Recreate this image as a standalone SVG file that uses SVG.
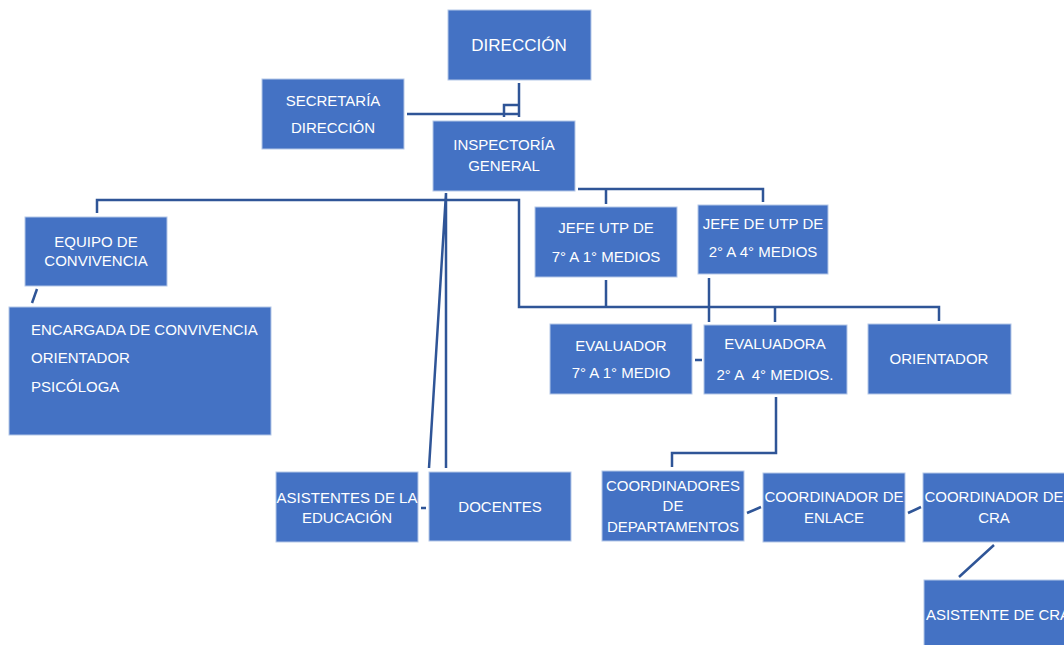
<svg xmlns="http://www.w3.org/2000/svg" width="1064" height="645" viewBox="0 0 1064 645">
<style>
.box{fill:#4472C4;stroke:#b4c7e7;stroke-width:1}
.t{font-family:"Liberation Sans",Arial,sans-serif;font-size:15px;fill:#ffffff;text-anchor:middle}
.tl{text-anchor:start}
.c{fill:none;stroke:#2F5597;stroke-width:2.5}
</style>
<rect width="1064" height="645" fill="#ffffff"/>
<g id="connectors">
<path class="c" d="M519,83 V117 M504,117 V105 H519 M407,114 H519"/>
<path class="c" d="M97,213 V200 H519 V307 H939 V321"/>
<path class="c" d="M446,193 V468 M446,193 L429,468"/>
<path class="c" d="M578,189 H763 V202 M606,189 V204"/>
<path class="c" d="M606,280 V307 M709,278 V322 M775,307 V322"/>
<path class="c" d="M695,360 H702 M421,508 H426"/>
<path class="c" d="M32,303 L37,289"/>
<path class="c" d="M776,397 V453 H672 V467"/>
<path class="c" d="M747,513 L761,507 M908,513 L921,507 M994,545 L959,577"/>
</g>
<g id="direccion"><rect class="box" x="448" y="10" width="143" height="70"/><text class="t" x="519" y="51" style="font-size:17px">DIRECCIÓN</text></g>
<g id="secretaria"><rect class="box" x="262" y="79" width="142" height="70"/><text class="t" x="333" y="106">SECRETARÍA</text><text class="t" x="333" y="133">DIRECCIÓN</text></g>
<g id="inspectoria"><rect class="box" x="433" y="121" width="142" height="70"/><text class="t" x="504" y="150">INSPECTORÍA</text><text class="t" x="504" y="171">GENERAL</text></g>
<g id="equipo"><rect class="box" x="25" y="217" width="142" height="69"/><text class="t" x="96" y="247">EQUIPO DE</text><text class="t" x="96" y="266">CONVIVENCIA</text></g>
<g id="encargada"><rect class="box" x="9" y="307" width="262" height="128"/><text class="t tl" x="31" y="335">ENCARGADA DE CONVIVENCIA</text><text class="t tl" x="31" y="363">ORIENTADOR</text><text class="t tl" x="31" y="392">PSICÓLOGA</text></g>
<g id="jefe1"><rect class="box" x="535" y="207" width="142" height="70"/><text class="t" x="606" y="233">JEFE UTP DE</text><text class="t" x="606" y="262">7° A 1° MEDIOS</text></g>
<g id="jefe2"><rect class="box" x="698" y="205" width="130" height="69"/><text class="t" x="763" y="229">JEFE DE UTP DE</text><text class="t" x="763" y="257">2° A 4° MEDIOS</text></g>
<g id="evaluador"><rect class="box" x="550" y="324" width="142" height="70"/><text class="t" x="621" y="351">EVALUADOR</text><text class="t" x="621" y="378">7° A 1° MEDIO</text></g>
<g id="evaluadora"><rect class="box" x="704" y="325" width="143" height="69"/><text class="t" x="775" y="349">EVALUADORA</text><text class="t" x="775" y="380" xml:space="preserve">2° A  4° MEDIOS.</text></g>
<g id="orientador"><rect class="box" x="868" y="324" width="143" height="70"/><text class="t" x="939" y="364">ORIENTADOR</text></g>
<g id="asistentes"><rect class="box" x="276" y="472" width="142" height="70"/><text class="t" x="347" y="503">ASISTENTES DE LA</text><text class="t" x="347" y="523">EDUCACIÓN</text></g>
<g id="docentes"><rect class="box" x="429" y="472" width="142" height="69"/><text class="t" x="500" y="512">DOCENTES</text></g>
<g id="coordinadores"><rect class="box" x="602" y="471" width="142" height="70"/><text class="t" x="673" y="491">COORDINADORES</text><text class="t" x="673" y="511">DE</text><text class="t" x="673" y="532">DEPARTAMENTOS</text></g>
<g id="enlace"><rect class="box" x="763" y="473" width="142" height="69"/><text class="t" x="834" y="502">COORDINADOR DE</text><text class="t" x="834" y="523">ENLACE</text></g>
<g id="cra"><rect class="box" x="923" y="473" width="142" height="69"/><text class="t" x="994" y="502">COORDINADOR DE</text><text class="t" x="994" y="523">CRA</text></g>
<g id="asistente-cra"><rect class="box" x="924" y="580" width="142" height="70"/><text class="t" x="998" y="620">ASISTENTE DE CRA</text></g>
</svg>
